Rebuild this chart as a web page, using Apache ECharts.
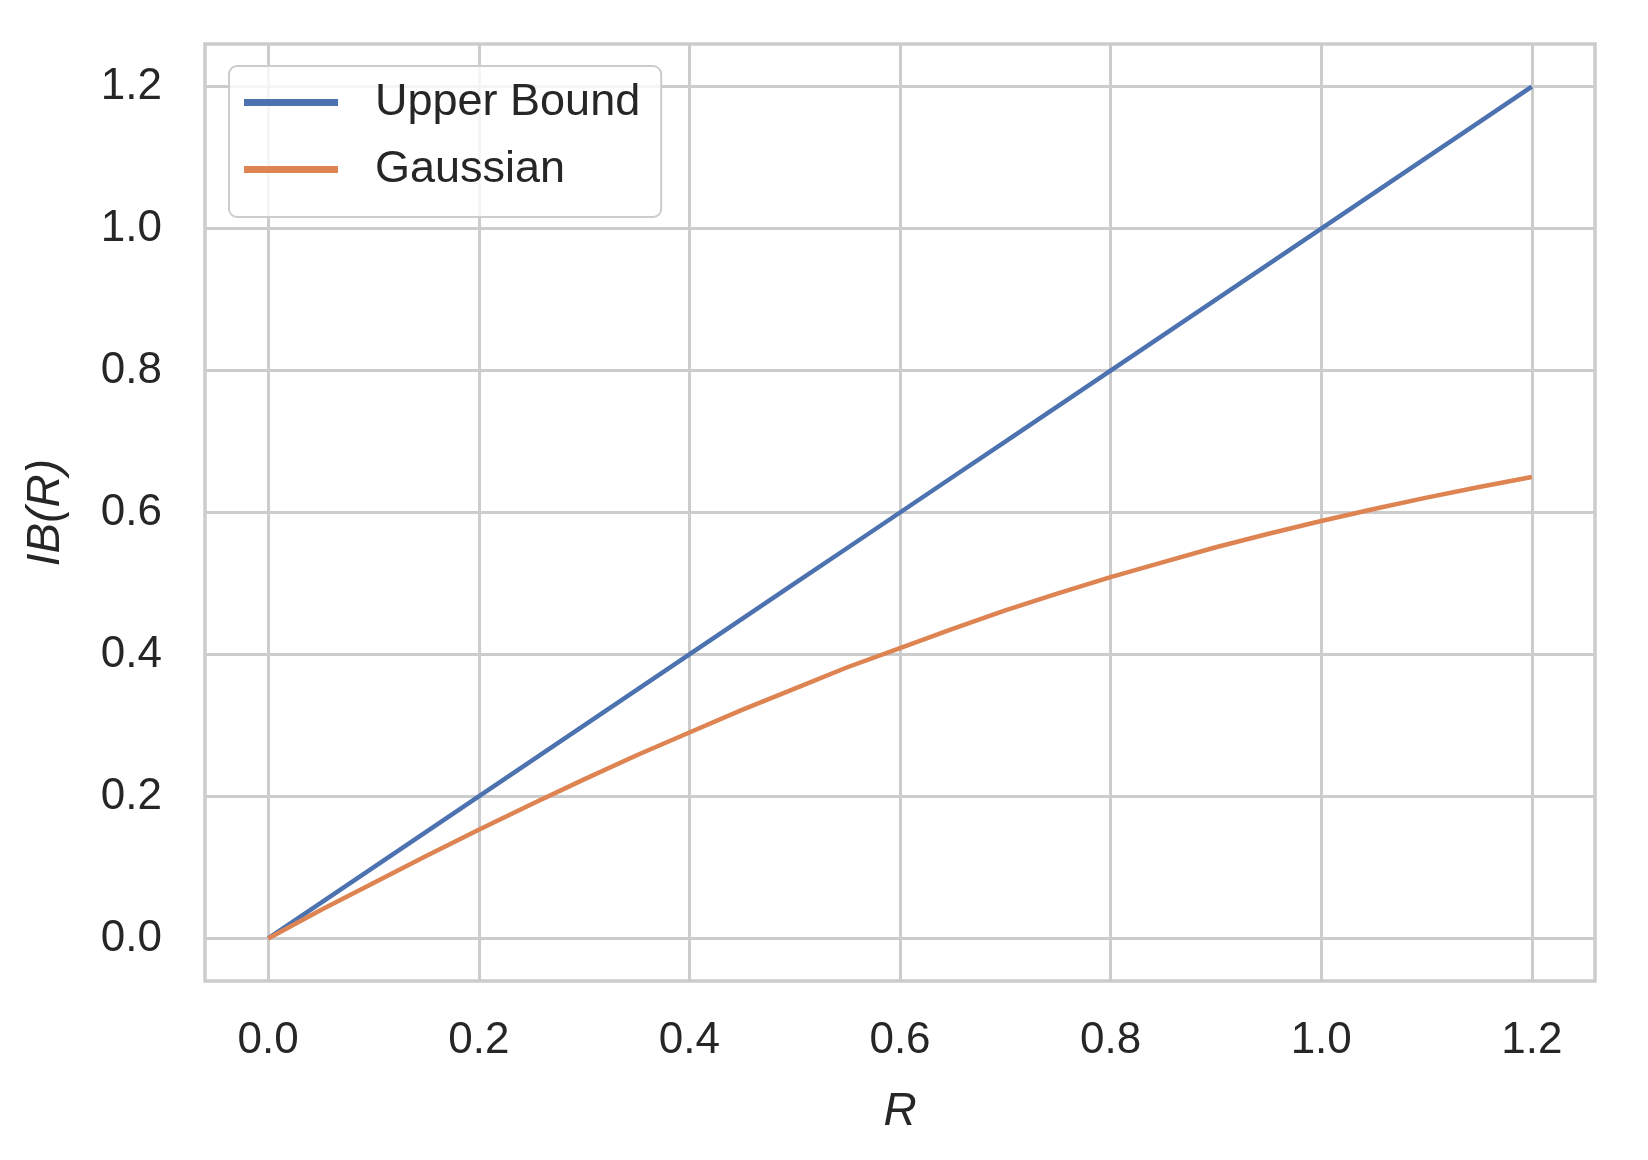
<!DOCTYPE html>
<html>
<head>
<meta charset="utf-8">
<script src="https://cdn.jsdelivr.net/npm/echarts@6/dist/echarts.min.js"></script>
<style>html,body{margin:0;padding:0;background:#fff;}#c{width:1648px;height:1160px;}</style>
</head>
<body>
<div id="c"></div>
<script>
const rValues = [0, 0.05, 0.1, 0.15, 0.2, 0.25, 0.3, 0.35, 0.4, 0.45, 0.5, 0.55, 0.6, 0.65, 0.7, 0.75, 0.8, 0.85, 0.9, 0.95, 1.0, 1.05, 1.1, 1.15, 1.2];
const upperBound = [0, 0.05, 0.1, 0.15, 0.2, 0.25, 0.3, 0.35, 0.4, 0.45, 0.5, 0.55, 0.6, 0.65, 0.7, 0.75, 0.8, 0.85, 0.9, 0.95, 1.0, 1.05, 1.1, 1.15, 1.2];
const gaussian = [0, 0.040, 0.078, 0.116, 0.153, 0.189, 0.224, 0.258, 0.290, 0.322, 0.352, 0.382, 0.409, 0.436, 0.462, 0.486, 0.509, 0.530, 0.551, 0.570, 0.588, 0.605, 0.621, 0.636, 0.650];
const tickValues = [0, 0.2, 0.4, 0.6, 0.8, 1.0, 1.2];
const seriesNames = ['Upper Bound', 'Gaussian'];

const font = 'Liberation Sans, Arial, sans-serif';
const chart = echarts.init(document.getElementById('c'));
chart.setOption({
  animation: false,
  backgroundColor: '#ffffff',
  grid: { left: 205, right: 53, top: 44, bottom: 179, show: true, borderColor: '#cccccc', borderWidth: 3.5, backgroundColor: '#ffffff' },
  legend: {
    data: seriesNames,
    orient: 'vertical',
    left: 229, top: 66,
    padding: [14, 21, 25, 15],
    itemWidth: 94, itemHeight: 44, itemGap: 22,
    icon: 'path://M0,0H94V7H0Z',
    backgroundColor: 'rgba(255,255,255,0.8)',
    borderColor: '#cccccc', borderWidth: 2, borderRadius: 8,
    textStyle: { fontFamily: font, fontSize: 45, color: '#262626', padding: [0, 0, 0, 32] }
  },
  xAxis: {
    type: 'value', min: -0.06, max: 1.26,
    name: 'R', nameLocation: 'middle', nameGap: 108,
    nameTextStyle: { fontFamily: font, fontSize: 46, fontStyle: 'italic', color: '#262626' },
    axisLine: { show: false },
    axisTick: { show: false, customValues: tickValues },
    axisLabel: { customValues: tickValues, margin: 38, fontFamily: font, fontSize: 44, color: '#262626', formatter: v => v.toFixed(1) },
    splitLine: { show: true, lineStyle: { color: '#cccccc', width: 3 } }
  },
  yAxis: {
    type: 'value', min: -0.06, max: 1.26,
    name: 'IB(R)', nameLocation: 'middle', nameGap: 136,
    nameTextStyle: { fontFamily: font, fontSize: 46, fontStyle: 'italic', color: '#262626' },
    axisLine: { show: false },
    axisTick: { show: false, customValues: tickValues },
    axisLabel: { customValues: tickValues, margin: 43, fontFamily: font, fontSize: 44, color: '#262626', formatter: v => v.toFixed(1) },
    splitLine: { show: true, lineStyle: { color: '#cccccc', width: 3 } }
  },
  series: [
    { name: seriesNames[0], type: 'line', symbol: 'none', data: rValues.map((r, i) => [r, upperBound[i]]), lineStyle: { color: '#4c72b0', width: 4.5 }, itemStyle: { color: '#4c72b0' } },
    { name: seriesNames[1], type: 'line', symbol: 'none', data: rValues.map((r, i) => [r, gaussian[i]]), lineStyle: { color: '#dd8452', width: 4.5 }, itemStyle: { color: '#dd8452' } }
  ]
});
</script>
</body>
</html>
